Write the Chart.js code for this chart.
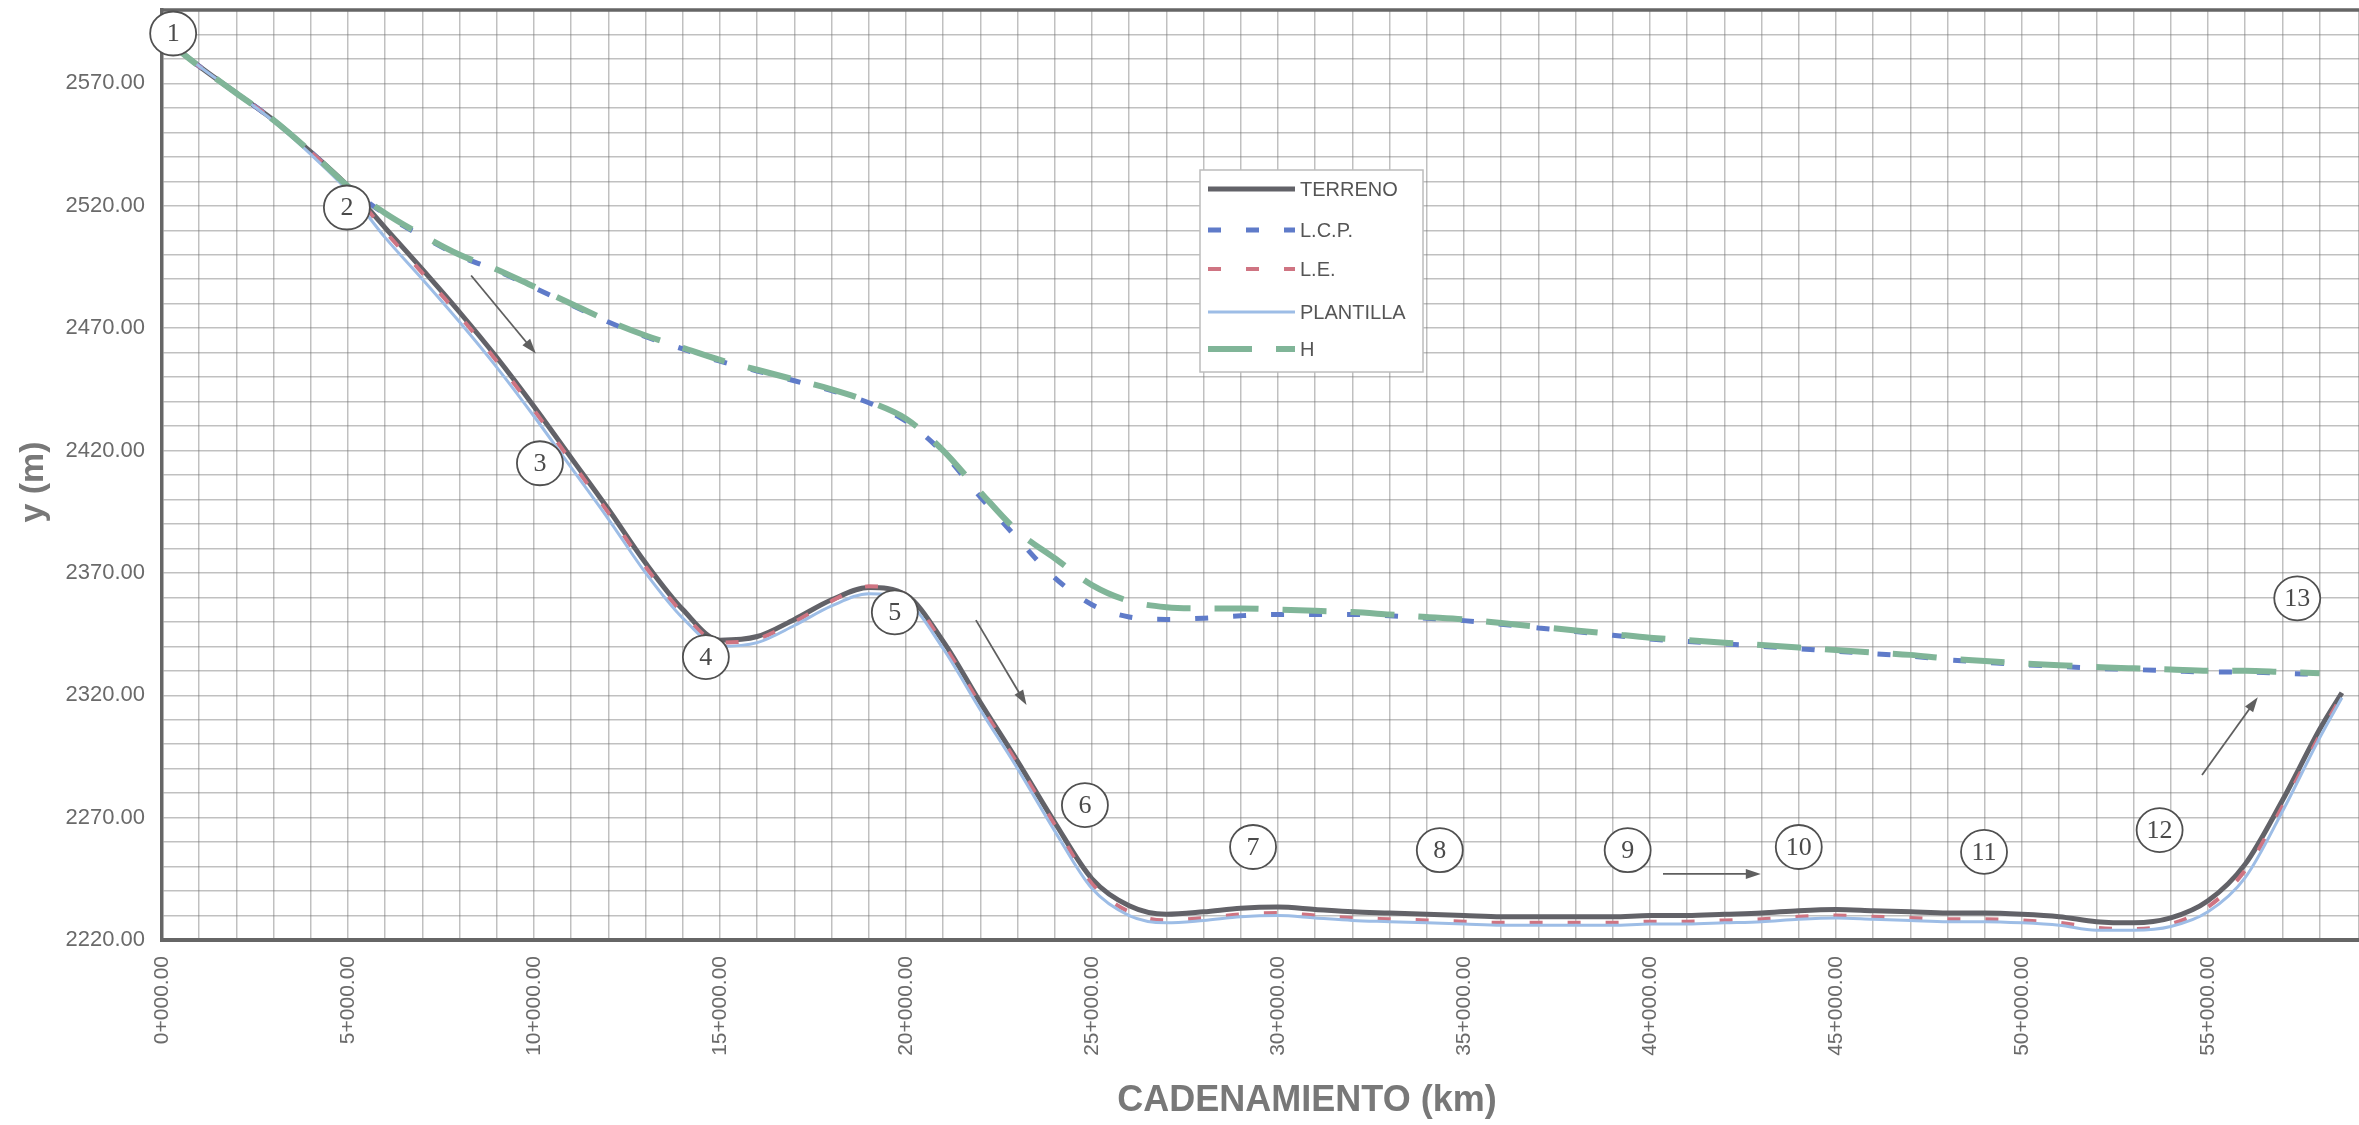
<!DOCTYPE html>
<html lang="es">
<head>
<meta charset="utf-8">
<title>Perfil longitudinal</title>
<script src="https://cdn.jsdelivr.net/npm/chart.js@4.4.1/dist/chart.umd.min.js"></script>
<style>
  html, body { margin: 0; padding: 0; background: #ffffff; }
  #wrap { width: 2359px; height: 1125px; position: relative; }
</style>
</head>
<body>
<div id="wrap"><canvas id="perfil" width="2359" height="1125"></canvas></div>
<script>
// Estaciones del eje (km)
const cadenamiento = [
  0, 1, 2, 3, 4, 5, 6, 7, 8, 9,
  10, 11, 12, 13, 14, 15, 16, 17, 18, 19,
  20, 21, 22, 23, 24, 25, 26, 27, 28, 29,
  30, 31, 32, 33, 34, 35, 36, 37, 38, 39,
  40, 41, 42, 43, 44, 45, 46, 47, 48, 49,
  50, 51, 52, 53, 54, 55, 56, 57, 58, 58.6
];

// Cotas (m)
const terreno = [
  2589, 2577, 2566, 2555, 2542, 2528, 2511, 2494, 2476.5, 2458,
  2438, 2417, 2396, 2374, 2355, 2342.5, 2344, 2351, 2359, 2364,
  2361, 2342, 2317, 2293, 2268, 2245, 2234, 2230.5, 2231.5, 2233,
  2233.5, 2232.5, 2231.5, 2231, 2230.5, 2230, 2229.5, 2229.5, 2229.5, 2229.5,
  2230, 2230, 2230.5, 2231, 2232, 2232.5, 2232, 2231.5, 2231, 2231,
  2230.5, 2229.5, 2227.5, 2227, 2229, 2236, 2251, 2277, 2306, 2321
];

const lcp = [
  2589, 2577, 2566, 2555, 2542, 2528, 2516.5, 2507.5, 2499.5, 2493.5,
  2486.5, 2479.5, 2472.5, 2466.5, 2461.5, 2456.5, 2452.5, 2448.5, 2444.5, 2439.5,
  2432, 2419, 2401, 2384, 2368, 2357, 2352, 2351, 2351.5, 2352.5,
  2353, 2353, 2353, 2352.5, 2351.5, 2350.5, 2349, 2347.5, 2346, 2344.5,
  2343, 2342, 2341, 2340, 2339, 2338, 2337, 2336, 2334.5, 2333.5,
  2332.5, 2331.8, 2331, 2330.5, 2330, 2329.5, 2329.5, 2329, 2328.5, null
];

const le = [
  2589, 2577, 2566, 2555, 2542, 2528, 2509.5, 2492.5, 2475, 2456.5,
  2436.5, 2415.5, 2394.5, 2372.5, 2353.5, 2341.5, 2343, 2350, 2358.5, 2364.5,
  2361, 2341, 2316, 2292, 2267, 2243, 2231.5, 2228, 2229, 2230.5,
  2231, 2230, 2229, 2228.5, 2228, 2227.5, 2227, 2227, 2227, 2227,
  2227.5, 2227.5, 2228, 2228.5, 2229.5, 2230, 2229.5, 2229, 2228.5, 2228.5,
  2228, 2227, 2225, 2224.5, 2226.5, 2233.5, 2248.5, 2274.5, 2303.5, 2320
];

const plantilla = [
  2589, 2577, 2566, 2554.5, 2541, 2526, 2507, 2490, 2472.5, 2454,
  2434, 2413, 2392, 2370, 2351.5, 2340, 2341.5, 2348.5, 2356.5, 2361.5,
  2358.5, 2339, 2314, 2290, 2264.5, 2241, 2230, 2227, 2228, 2229.5,
  2230, 2229, 2228, 2227.5, 2227, 2226.5, 2226, 2226, 2226, 2226,
  2226.5, 2226.5, 2227, 2227.5, 2228.5, 2229, 2228.5, 2228, 2227.5, 2227.5,
  2227, 2226, 2224, 2224, 2225.5, 2231.5, 2245.5, 2272.5, 2302.5, 2319
];

const h = [
  2589, 2577, 2566, 2555, 2542, 2528, 2517, 2508, 2500, 2494,
  2487, 2480, 2473, 2467, 2462, 2457, 2453, 2449, 2445, 2440,
  2433, 2420, 2403, 2387, 2376, 2365, 2358.5, 2356, 2355.5, 2355.5,
  2355, 2354.5, 2354, 2353, 2352, 2351, 2349.5, 2348, 2346.5, 2345,
  2343.5, 2342.5, 2341.5, 2340.5, 2339.5, 2338.5, 2337.5, 2336.5, 2335, 2334,
  2333, 2332.3, 2331.5, 2331, 2330.5, 2330, 2330, 2329.5, 2329, null
];

// Rótulos de los ejes
const etiquetasKm = ['0+000.00', '5+000.00', '10+000.00', '15+000.00', '20+000.00', '25+000.00',
                     '30+000.00', '35+000.00', '40+000.00', '45+000.00', '50+000.00', '55+000.00'];
const etiquetasCota = ['2220.00', '2270.00', '2320.00', '2370.00', '2420.00', '2470.00', '2520.00', '2570.00'];

const serie = (valores) => cadenamiento.map((km, i) => ({ x: km, y: valores[i] }));

// Puntos de referencia numerados y flechas de sentido del flujo (en km / cota)
const hitos = [
  { n: '1', km: 0.3, cota: 2590.4 },
  { n: '2', km: 4.97, cota: 2519.3 },
  { n: '3', km: 10.16, cota: 2414.8 },
  { n: '4', km: 14.62, cota: 2335.6 },
  { n: '5', km: 19.7, cota: 2353.9 },
  { n: '6', km: 24.81, cota: 2275.1 },
  { n: '7', km: 29.33, cota: 2258 },
  { n: '8', km: 34.35, cota: 2256.7 },
  { n: '9', km: 39.4, cota: 2256.7 },
  { n: '10', km: 44.0, cota: 2258 },
  { n: '11', km: 48.98, cota: 2256 },
  { n: '12', km: 53.7, cota: 2264.9 },
  { n: '13', km: 57.4, cota: 2359.6 }
];
const flechas = [
  { desde: [8.31, 2491.5], hasta: [10.05, 2459.6] },
  { desde: [21.88, 2350.7], hasta: [23.24, 2316] },
  { desde: [40.35, 2247], hasta: [42.98, 2247] },
  { desde: [54.84, 2287.4], hasta: [56.34, 2319.2] }
];

const GRID = 'rgba(115,115,115,0.45)';
const TEXTO = '#6a6a6a';

const decoracion = {
  id: 'decoracion',
  beforeDraw(chart) {
    const ctx = chart.ctx;
    ctx.save();
    ctx.fillStyle = '#ffffff';
    ctx.fillRect(0, 0, chart.width, chart.height);
    ctx.restore();
  },
  afterDraw(chart) {
    const ctx = chart.ctx;
    const xs = chart.scales.x, ys = chart.scales.y;
    const area = chart.chartArea;

    // borde superior del área de trazado
    ctx.save();
    ctx.strokeStyle = '#666666';
    ctx.lineWidth = 3.5;
    ctx.beginPath();
    ctx.moveTo(area.left - 1.5, area.top);
    ctx.lineTo(area.right, area.top);
    ctx.stroke();
    ctx.restore();

    // flechas
    ctx.save();
    ctx.strokeStyle = '#5f5f5f';
    ctx.fillStyle = '#5f5f5f';
    ctx.lineWidth = 1.8;
    flechas.forEach(f => {
      const x0 = xs.getPixelForValue(f.desde[0]), y0 = ys.getPixelForValue(f.desde[1]);
      const x1 = xs.getPixelForValue(f.hasta[0]), y1 = ys.getPixelForValue(f.hasta[1]);
      const ang = Math.atan2(y1 - y0, x1 - x0);
      ctx.beginPath();
      ctx.moveTo(x0, y0);
      ctx.lineTo(x1 - 8 * Math.cos(ang), y1 - 8 * Math.sin(ang));
      ctx.stroke();
      ctx.beginPath();
      ctx.moveTo(x1, y1);
      ctx.lineTo(x1 - 15 * Math.cos(ang) + 5 * Math.sin(ang), y1 - 15 * Math.sin(ang) - 5 * Math.cos(ang));
      ctx.lineTo(x1 - 15 * Math.cos(ang) - 5 * Math.sin(ang), y1 - 15 * Math.sin(ang) + 5 * Math.cos(ang));
      ctx.closePath();
      ctx.fill();
    });
    ctx.restore();

    // círculos numerados
    ctx.save();
    hitos.forEach(p => {
      const cx = xs.getPixelForValue(p.km), cy = ys.getPixelForValue(p.cota);
      ctx.beginPath();
      ctx.ellipse(cx, cy, 23, 22, 0, 0, Math.PI * 2);
      ctx.fillStyle = '#ffffff';
      ctx.fill();
      ctx.lineWidth = 1.8;
      ctx.strokeStyle = '#505050';
      ctx.stroke();
      ctx.fillStyle = '#4a4a4a';
      ctx.font = '26px "Liberation Serif", serif';
      ctx.textAlign = 'center';
      ctx.textBaseline = 'middle';
      ctx.fillText(p.n, cx, cy + 1);
    });
    ctx.restore();

    // leyenda
    ctx.save();
    const lx = 1200, ly = 170, lw = 223, lh = 202;
    ctx.fillStyle = '#ffffff';
    ctx.fillRect(lx, ly, lw, lh);
    ctx.strokeStyle = '#bcbcbc';
    ctx.lineWidth = 1.5;
    ctx.strokeRect(lx, ly, lw, lh);
    const filas = [189, 230, 269, 312, 349];
    chart.data.datasets.forEach((ds, i) => {
      const y = filas[i];
      ctx.save();
      ctx.strokeStyle = ds.borderColor;
      ctx.lineWidth = ds.borderWidth;
      ctx.setLineDash(ds.borderDash || []);
      ctx.beginPath();
      ctx.moveTo(1208, y);
      ctx.lineTo(1295, y);
      ctx.stroke();
      ctx.restore();
      ctx.fillStyle = '#555555';
      ctx.font = '20px "Liberation Sans", Arial, sans-serif';
      ctx.textAlign = 'left';
      ctx.textBaseline = 'middle';
      ctx.fillText(ds.label, 1300, y + 1);
    });
    ctx.restore();

    // títulos de los ejes
    ctx.save();
    ctx.fillStyle = '#787878';
    ctx.font = 'bold 36px "Liberation Sans", Arial, sans-serif';
    ctx.textAlign = 'center';
    ctx.textBaseline = 'middle';
    ctx.fillText('CADENAMIENTO (km)', 1307, 1101);
    ctx.translate(34, 482);
    ctx.rotate(-Math.PI / 2);
    ctx.font = 'bold 34px "Liberation Sans", Arial, sans-serif';
    ctx.fillText('y (m)', 0, 0);
    ctx.restore();
  }
};

new Chart(document.getElementById('perfil'), {
  type: 'line',
  data: {
    datasets: [
      { label: 'TERRENO', data: serie(terreno), borderColor: '#626268', borderWidth: 5, order: 5 },
      { label: 'L.C.P.', data: serie(lcp), borderColor: '#5f7bc9', borderWidth: 5, borderDash: [13, 25], order: 4 },
      { label: 'L.E.', data: serie(le), borderColor: '#cf7482', borderWidth: 4, borderDash: [13, 25], order: 3 },
      { label: 'PLANTILLA', data: serie(plantilla), borderColor: '#9dbde6', borderWidth: 3, order: 2 },
      { label: 'H', data: serie(h), borderColor: '#80b598', borderWidth: 6, borderDash: [44, 24], order: 1 }
    ]
  },
  options: {
    responsive: false,
    devicePixelRatio: 1,
    animation: false,
    layout: { padding: { top: 10, right: 0, bottom: 0, left: 0 } },
    elements: {
      point: { radius: 0 },
      line: { cubicInterpolationMode: 'monotone', fill: false, borderCapStyle: 'butt' }
    },
    plugins: { legend: { display: false }, tooltip: { enabled: false } },
    scales: {
      x: {
        type: 'linear',
        min: 0,
        max: 59.06,
        ticks: {
          stepSize: 1,
          autoSkip: false,
          minRotation: 90,
          maxRotation: 90,
          padding: 16,
          color: TEXTO,
          font: { family: '"Liberation Sans", Arial, sans-serif', size: 21 },
          callback: (v) => (Number.isInteger(v) && v % 5 === 0) ? etiquetasKm[v / 5] : ''
        },
        grid: { color: GRID, lineWidth: 1.5, drawTicks: false },
        border: { display: true, color: '#666666', width: 4 },
        afterFit: (s) => { s.height = 185; s.paddingLeft = 0; s.paddingRight = 0; }
      },
      y: {
        min: 2220,
        max: 2600,
        ticks: {
          stepSize: 10,
          autoSkip: false,
          padding: 17,
          color: TEXTO,
          font: { family: '"Liberation Sans", Arial, sans-serif', size: 22 },
          callback: (v) => ((v - 2220) % 50 === 0) ? etiquetasCota[(v - 2220) / 50] : ''
        },
        grid: { color: GRID, lineWidth: 1.5, drawTicks: false },
        border: { display: true, color: '#666666', width: 3.5 },
        afterFit: (s) => { s.width = 162; s.paddingTop = 0; s.paddingBottom = 0; }
      }
    }
  },
  plugins: [decoracion]
});
</script>
</body>
</html>
